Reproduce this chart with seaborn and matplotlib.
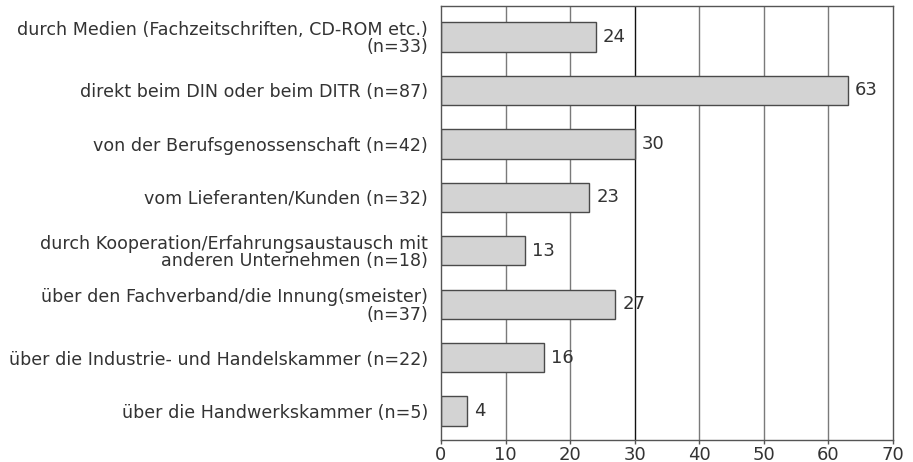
import matplotlib
matplotlib.use("Agg")
import matplotlib.pyplot as plt
import pandas as pd
import seaborn as sns

# categories (top to bottom) and share in percent
labels = [
	"durch Medien (Fachzeitschriften, CD-ROM etc.)\n(n=33)",
	"direkt beim DIN oder beim DITR (n=87)",
	"von der Berufsgenossenschaft (n=42)",
	"vom Lieferanten/Kunden (n=32)",
	"durch Kooperation/Erfahrungsaustausch mit\nanderen Unternehmen (n=18)",
	"über den Fachverband/die Innung(smeister)\n(n=37)",
	"über die Industrie- und Handelskammer (n=22)",
	"über die Handwerkskammer (n=5)",
]
values = [24, 63, 30, 23, 13, 27, 16, 4]
x_ticks = [0, 10, 20, 30, 40, 50, 60, 70]

df = pd.DataFrame({"label": labels, "value": values})

sns.set_theme(style="white")
plt.rcParams["font.family"] = ["DejaVu Sans"]

fig = plt.figure(figsize=(9.13, 4.62), dpi=100)
ax = fig.add_axes([0.483, 0.0476, 0.495, 0.9394])

# vertical grid lines, the 30 line is drawn darker like in the original
for t in x_ticks[1:-1]:
	ax.axvline(t, color="#111111" if t == 30 else "#7a7a7a", lw=1.0, zorder=0)

sns.barplot(
	data=df, x="value", y="label", orient="h", color="#d3d3d3",
	edgecolor="#4a4a4a", linewidth=1.0, width=0.55, saturation=1, ax=ax,
)

for i, v in enumerate(values):
	ax.annotate(str(v), (v, i), xytext=(5, 0), textcoords="offset points",
		ha="left", va="center", fontsize=13, color="#333333")

ax.set_xlim(0, 70)
ax.set_ylim(7.54, -0.58)
ax.set_xticks(x_ticks)
ax.set_xlabel("")
ax.set_ylabel("")
ax.tick_params(axis="x", labelsize=13, length=3, width=1, color="#555555",
	direction="out", pad=1, labelcolor="#333333", bottom=True)
ax.tick_params(axis="y", labelsize=12.6, length=0, pad=9.5, labelcolor="#333333")
for lab in ax.get_yticklabels():
	lab.set_horizontalalignment("right")
	lab.set_multialignment("right")
	lab.set_linespacing(0.95)

for s in ax.spines.values():
	s.set_color("#555555")
	s.set_linewidth(1.0)
	s.set_visible(True)

fig.savefig("out.png", dpi=100)
